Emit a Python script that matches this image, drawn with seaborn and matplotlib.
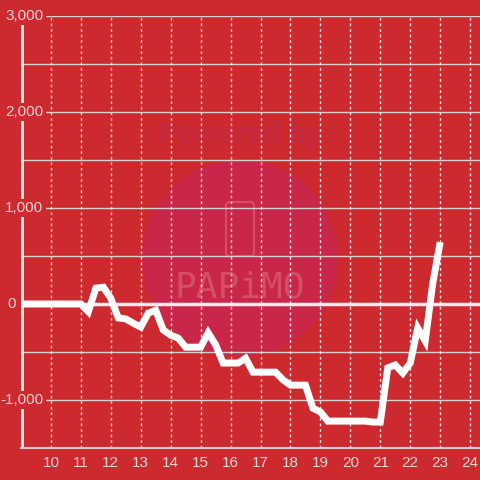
import matplotlib
matplotlib.use('Agg')
import matplotlib.pyplot as plt
import matplotlib.patches as mpatches
import matplotlib.transforms as mtransforms
import seaborn as sns
import pandas as pd

hours = [9.0, 9.25, 9.5, 9.75, 10.0, 10.25, 10.5, 10.75, 11.0,
         11.25, 11.5, 11.75, 12.0, 12.25, 12.5, 12.75, 13.0,
         13.25, 13.5, 13.75, 14.0, 14.25, 14.5, 14.75, 15.0,
         15.25, 15.5, 15.75, 16.0, 16.25, 16.5, 16.75, 17.0,
         17.25, 17.5, 17.75, 18.0, 18.25, 18.5, 18.75, 19.0,
         19.25, 19.5, 19.75, 20.0, 20.25, 20.5, 20.75, 21.0,
         21.25, 21.5, 21.75, 22.0, 22.25, 22.5, 22.75, 23.0]
balance = [0, 0, 0, 0, 0, 0, 0, 0, 0,
           -80, 165, 175, 60, -145, -155, -200, -240,
           -95, -65, -270, -325, -355, -450, -450, -450,
           -300, -425, -615, -615, -615, -565, -710, -710,
           -710, -710, -790, -845, -845, -845, -1085, -1125,
           -1220, -1220, -1220, -1220, -1220, -1220, -1230, -1230,
           -665, -635, -720, -615, -250, -385, 210, 645]
x_ticks = [10, 11, 12, 13, 14, 15, 16, 17, 18, 19, 20, 21, 22, 23, 24]
y_ticks = [-1000, 0, 1000, 2000, 3000]
y_grid = [-1500, -1000, -500, 500, 1000, 1500, 2000, 2500, 3000]

bg = '#CC2A2F'
txt = '#F3D6D6'

sns.set_style('white')
plt.rcParams['font.family'] = ['Liberation Sans', 'DejaVu Sans']

fig = plt.figure(figsize=(4.8, 4.8), dpi=100, facecolor=bg)
ax = fig.add_axes([21 / 480, 32 / 480, 1 - 21 / 480, (448 - 16) / 480])
ax.set_facecolor(bg)

# watermark, under the grid
ax.add_patch(mpatches.Circle((0.5, 1 - 258 / 480), 98 / 480, transform=fig.transFigure,
                             facecolor='#C9274A', edgecolor='none', zorder=0.3, clip_on=False))
ax.text(0.5, 1 - 135 / 480, 'Powered by', transform=fig.transFigure, ha='center', va='center',
        fontsize=21, fontweight='bold', fontstyle='italic', color='#C42A42', zorder=0.4)
ax.add_patch(mpatches.FancyBboxPatch((226 / 480, 1 - 256 / 480), 28 / 480, 54 / 480,
                                     boxstyle='round,pad=0,rounding_size=0.008',
                                     transform=fig.transFigure, facecolor='none',
                                     edgecolor='#D64E66', lw=1.5, zorder=0.4, clip_on=False))
ax.text(0.5, 1 - 288 / 480, 'PAPiMO', transform=fig.transFigure, ha='center', va='center',
        fontsize=26, color='#D64E66', zorder=0.4, family='DejaVu Sans Mono')

ax.set_xlim(9.0, 24.33)
ax.set_ylim(-1500, 3000)

for v in y_grid:
    ax.axhline(v, color='#D8D0D0', lw=1, zorder=1)
for v in x_ticks:
    ax.axvline(v, color='#EDE0E0', lw=1, ls=(0, (2, 2)), zorder=1)
ax.axvline(9.0, color='#F2EAEA', lw=3.5, zorder=1.2)
ax.axhline(0, color='#F5ECEC', lw=2.5, zorder=1.3)

df = pd.DataFrame({'hour': hours, 'balance': balance})
sns.lineplot(data=df, x='hour', y='balance', ax=ax, color='white', lw=5,
             solid_joinstyle='miter', solid_capstyle='butt', zorder=3)

ax.set_xticks(x_ticks)
ax.set_xticklabels([str(v) for v in x_ticks])
ax.set_yticks(y_ticks)
ax.set_yticklabels([])
ax.tick_params(axis='x', length=0, pad=6, labelsize=11, labelcolor=txt)
ax.tick_params(axis='y', length=0)

# y labels sit over the axis line, the zero label is pushed left of it
trans = mtransforms.blended_transform_factory(fig.transFigure, ax.transData)
for v in y_ticks:
    xr = 15.5 / 480 if v == 0 else 43.5 / 480
    ax.text(xr, v, f'{v:,}', transform=trans, ha='right', va='center', fontsize=11,
            color=txt, zorder=5, clip_on=False,
            bbox=dict(facecolor=bg, edgecolor='none', pad=1.5))
ax.set_xlabel('')
ax.set_ylabel('')

for s in ['top', 'right', 'left']:
    ax.spines[s].set_visible(False)
ax.spines['bottom'].set_color('#D8D0D0')
ax.spines['bottom'].set_linewidth(1.5)

fig.savefig('out.png', dpi=100, facecolor=bg)
